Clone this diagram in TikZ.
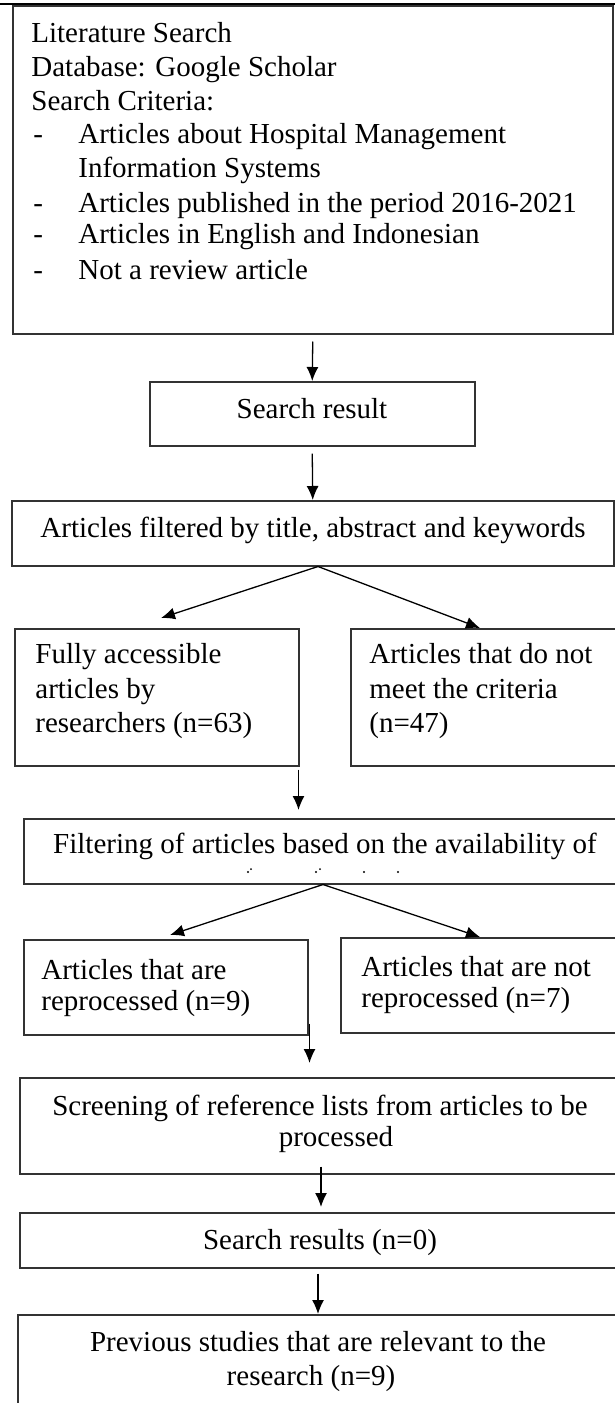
\documentclass[tikz,border=0pt]{standalone}
\usepackage{fontspec}
\setmainfont{Liberation Serif}
\usetikzlibrary{arrows.meta,calc}
\begin{document}
\begin{tikzpicture}[x=0.5pt,y=-0.5pt,
  box/.style={draw=black!80, line width=0.75pt, inner sep=0pt, anchor=north west},
  txt/.style={inner sep=0pt, font=\fontsize{14.5pt}{17pt}\selectfont},
  tl/.style={txt, anchor=base west},
  tc/.style={txt, anchor=base},
  arr/.style={line width=0.65pt, -{Latex[length=7pt,width=6pt]}}]
\useasboundingbox (0,0) rectangle (615,1403);
\clip (0,0) rectangle (615,1403);
\fill[white] (0,0) rectangle (615,1403);

% boxes
\node[box, minimum width=300pt, minimum height=164pt] (B1) at (12,5) {};
\node[box, minimum width=162.5pt, minimum height=32pt] (SR) at (149,381) {};
\node[box, minimum width=301pt, minimum height=32.5pt] (B3) at (11,500) {};
\node[box, minimum width=142pt, minimum height=68.5pt] (L1) at (14,628) {};
\node[box, minimum width=150pt, minimum height=68.5pt] (R1) at (350,628) {};
\node[box, minimum width=302pt, minimum height=32.5pt] (F) at (23,818) {};
\node[box, minimum width=142pt, minimum height=47.5pt] (L2) at (23,939) {};
\node[box, minimum width=150pt, minimum height=47.5pt] (R2) at (340,937) {};
\node[box, minimum width=305pt, minimum height=48pt] (S) at (19,1077) {};
\node[box, minimum width=305pt, minimum height=27.5pt] (SR2) at (19,1212) {};
\node[box, minimum width=310pt, minimum height=60pt] (P) at (17,1314) {};

% top frame line
\draw[line width=1.3pt] (0,4) -- (615,4);

% texts box 1
\node[tl] (t1) at (31,42) {Literature Search};
\node[tl] (t2) at (31,76) {Database: Google Scholar};
\node[tl] (t3) at (31,110) {Search Criteria:};
\node[tl] (d1) at (33,143) {-};
\node[tl] (t4) at (78,143) {Articles about Hospital Management};
\node[tl] (t5) at (78,177) {Information Systems};
\node[tl] (d2) at (33,212) {-};
\node[tl] (t6) at (78,212) {Articles published in the period 2016-2021};
\node[tl] (d3) at (33,243) {-};
\node[tl] (t7) at (78,243) {Articles in English and Indonesian};
\node[tl] (d4) at (33,279) {-};
\node[tl] (t8) at (78,279) {Not a review article};

\node[tc] (tsr) at (312,418) {Search result};
\node[tc] (tb3) at (313,537) {Articles filtered by title, abstract and keywords};

\node[tl] (tl1a) at (35,663) {Fully accessible};
\node[tl] (tl1b) at (35,698) {articles by};
\node[tl] (tl1c) at (35,732) {researchers (n=63)};
\node[tl] (tr1a) at (369,663) {Articles that do not};
\node[tl] (tr1b) at (369,698) {meet the criteria};
\node[tl] (tr1c) at (369,732) {(n=47)};

\node[tc] (tf) at (325,853) {Filtering of articles based on the availability of};
\fill (248,872) circle (0.6pt) (251,869) circle (0.5pt) (316,872) circle (0.6pt) (320,869) circle (0.5pt) (364,872) circle (0.6pt) (398,872) circle (0.6pt);

\node[tl] (tl2a) at (41,979) {Articles that are};
\node[tl] (tl2b) at (41,1010) {reprocessed (n=9)};
\node[tl] (tr2a) at (361,976) {Articles that are not};
\node[tl] (tr2b) at (361,1007) {reprocessed (n=7)};

\node[tc] (tsa) at (320,1115) {Screening of reference lists from articles to be};
\node[tc] (tsb) at (336,1146) {processed};
\node[tc] (tsr2) at (320,1249) {Search results (n=0)};
\node[tc] (tpa) at (318,1351) {Previous studies that are relevant to the};
\node[tc] (tpb) at (311,1385) {research (n=9)};

% connectors
\draw[arr] ($(B1.south)+(0,7)$) -- (SR.north);
\draw[arr] ($(SR.south)+(0,7)$) -- (B3.north);
\draw[arr] ($(B3.south west)+(307,0)$) -- ($(L1.north west)+(147,-10)$);
\draw[arr] ($(B3.south west)+(307,0)$) -- ($(R1.north west)+(130,0)$);
\draw[arr] ($(L1.south east)+(-1,3)$) -- ($(L1.south east |- F.north)+(-1,-8)$);
\draw[arr] ($(F.south west)+(300,0)$) -- ($(L2.north west)+(147,-4)$);
\draw[arr] ($(F.south west)+(300,0)$) -- ($(R2.north west)+(140,0)$);
\draw[arr] ($(L2.south east)+(1,-12)$) -- ($(L2.south east |- S.north)+(1,-14)$);
\draw[arr] ($(S.south west)+(302,-8)$) -- ($(S.south west |- SR2.north)+(302,-5)$);
\draw[arr] ($(SR2.south west)+(299,5)$) -- ($(SR2.south west |- P.north)+(299,0)$);
\end{tikzpicture}
\end{document}
